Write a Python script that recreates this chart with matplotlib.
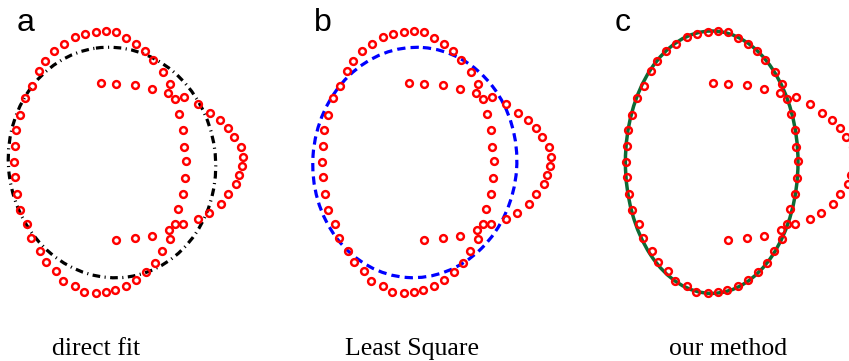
import matplotlib.pyplot as plt
from matplotlib.patches import Ellipse

# contour points of the main ellipse (x, y in image units, y pointing down)
ellipse_x = [105.7, 116.3, 126.3, 135.7, 145.0, 153.3, 162.7, 170.3, 174.7, 179.3,
             182.7, 183.7, 185.7, 184.7, 182.7, 178.3, 174.7, 170.0, 162.0, 155.0,
             146.0, 136.0, 126.0, 115.0, 105.7, 95.7, 84.0, 74.7, 63.3, 56.0,
             46.0, 40.0, 31.3, 26.7, 20.0, 17.0, 15.0, 13.7, 14.7, 16.3,
             19.7, 24.7, 32.0, 39.0, 44.7, 54.0, 64.3, 75.0, 84.7, 95.7]
ellipse_y = [31.0, 32.0, 37.7, 44.0, 51.0, 60.0, 72.3, 84.3, 99.0, 114.0,
             129.7, 146.7, 161.0, 178.3, 194.3, 209.3, 224.0, 239.0, 250.7, 262.7,
             272.0, 280.0, 286.0, 290.0, 292.3, 293.3, 291.7, 285.7, 281.0, 271.0,
             262.0, 251.0, 237.7, 224.0, 210.0, 194.0, 177.3, 162.0, 146.0, 129.7,
             115.0, 98.3, 85.7, 70.7, 61.3, 50.7, 44.0, 36.7, 33.7, 32.0]

# outlier points: upper row, bump on the right, lower row
outlier_x = [100.7, 116.3, 134.7, 152.3, 168.3, 184.0, 197.7, 210.0, 220.3, 228.0,
             234.3, 240.7, 243.0, 242.0, 239.3, 236.0, 228.0, 220.7, 209.3, 198.3,
             183.0, 169.0, 151.7, 134.7, 116.3]
outlier_y = [83.3, 84.3, 85.3, 89.0, 93.0, 97.3, 103.7, 112.7, 120.0, 128.3,
             137.3, 146.7, 156.7, 166.0, 175.0, 184.0, 194.3, 203.7, 212.7, 218.7,
             224.0, 230.3, 236.0, 238.3, 240.0]

# fitted ellipses: centre x, centre y, width, height, angle
fits = {
    "direct fit": (112.0, 162.5, 207.0, 231.0, -8.0),
    "Least Square": (106.8, 162.5, 204.0, 230.5, 4.0),
    "our method": (99.7, 162.2, 172.6, 262.4, 0.0),
}
fit_styles = [
    dict(edgecolor="black", linewidth=2.3, linestyle=(0, (2.4, 1.4, 0.35, 1.4))),
    dict(edgecolor="blue", linewidth=2.3, linestyle=(0, (2.6, 1.6))),
    dict(edgecolor="#0d6b35", linewidth=2.5, linestyle="-"),
]
panel_letters = ["a", "b", "c"]

W, H = 849, 361
fig = plt.figure(figsize=(W / 100, H / 100), dpi=100)
panel_left = [0, 308, 612]
letter_x = [17, 314, 615]
caption_x = [96, 412, 728]

for i, (name, (cx, cy, w, h, ang)) in enumerate(fits.items()):
    ax = fig.add_axes([panel_left[i] / W, (H - 310) / H, 300 / W, 310 / H])
    ax.set_xlim(0, 300)
    ax.set_ylim(310, 0)
    ax.axis("off")
    ax.add_patch(Ellipse((cx, cy), w, h, angle=ang, fill=False, zorder=1, **fit_styles[i]))
    ax.plot(ellipse_x, ellipse_y, "o", ms=4.9, mew=1.75, mfc="none", mec="red", zorder=2)
    ax.plot(outlier_x, outlier_y, "o", ms=4.9, mew=1.75, mfc="none", mec="red", zorder=2)
    fig.text(letter_x[i] / W, (H - 31) / H, panel_letters[i], fontsize=23,
             family="Liberation Sans", ha="left", va="baseline")
    fig.text(caption_x[i] / W, (H - 355) / H, name, fontsize=18.5,
             family="Liberation Serif", ha="center", va="baseline")

fig.savefig("out.png", dpi=100)
